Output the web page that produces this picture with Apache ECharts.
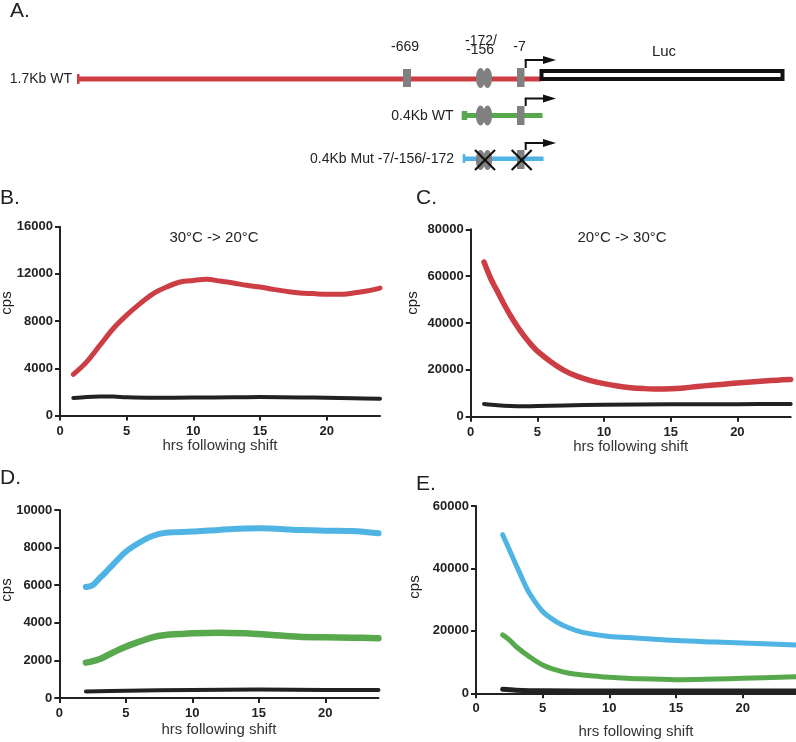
<!DOCTYPE html>
<html>
<head>
<meta charset="utf-8">
<script src="https://cdn.jsdelivr.net/npm/echarts@6.0.0/dist/echarts.min.js"></script>
<style>
html,body{margin:0;padding:0;background:#fff;}
#chart{width:796px;height:742px;}
</style>
</head>
<body>
<div id="chart"></div>
<script>
// ---------- data ----------
var xTicks = [0, 5, 10, 15, 20];

// Panel B: 30C -> 20C (1.7Kb WT)
var bRedHours = [1,2,3,4,5,6,7,8,9,10,11,12,13,14,15,16,17,18,19,20,21,22,23,24];
var bRed = [3480,4550,5960,7370,8500,9480,10330,10890,11310,11450,11540,11390,11230,11030,10890,10690,10520,10380,10330,10270,10270,10380,10550,10800];
var bBlackHours = [1,2,3,4,5,7,10,13,15,18,20,22,24];
var bBlack = [1480,1570,1610,1600,1540,1500,1520,1540,1560,1530,1500,1460,1430];

// Panel C: 20C -> 30C (1.7Kb WT)
var cRedHours = [1,1.5,2,2.5,3,3.5,4,4.5,5,6,7,8,9,10,11,12,13,14,15,16,17,18,19,20,21,22,23,24];
var cRed = [66000,59000,53500,48000,43000,38500,34500,31000,28000,23500,19800,17200,15400,14100,13100,12400,12000,11800,11900,12300,12900,13400,13900,14400,14800,15200,15600,15900];
var cBlackHours = [1,2,3,4,5,7,10,15,20,24];
var cBlack = [5400,4900,4600,4500,4550,4800,5100,5300,5350,5400];

// Panel D: 0.4Kb WT (green), 0.4Kb Mut (blue)
var dBlueHours = [2,2.5,3,3.5,4,5,6,7,8,10,12,15,18,20,22,24];
var dBlue = [5900,6000,6350,6700,7070,7780,8260,8620,8790,8850,8940,9030,8940,8900,8880,8760];
var dGreenHours = [2,3,4,5,6,7,8,9,10,12,14,15,16,18,20,22,24];
var dGreen = [1880,2060,2410,2730,2990,3230,3350,3400,3440,3470,3440,3400,3350,3260,3230,3210,3180];
var dBlackHours = [2,5,10,15,20,24];
var dBlack = [350,380,430,450,430,420];

// Panel E
var eBlueHours = [2,2.5,3,3.5,4,5,6,7,8,10,12,15,18,20,24];
var eBlue = [50800,46000,41200,36400,32100,26200,23000,20900,19500,18200,17700,16900,16400,16100,15500];
var eGreenHours = [2,2.5,3,4,5,6,7,8,10,12,15,18,20,24];
var eGreen = [18700,17100,15000,11750,9080,7480,6400,5870,5130,4700,4380,4600,4800,5330];
var eBlackHours = [2,3,5,10,15,20,24];
var eBlack = [1300,1000,800,750,750,750,750];

var yTicksB = [0,4000,8000,12000,16000];
var yTicksC = [0,20000,40000,60000,80000];
var yTicksD = [0,2000,4000,6000,8000,10000];
var yTicksE = [0,20000,40000,60000];

// ---------- styles ----------
var RED = '#cc3d44', GREEN = '#58a94e', BLUE = '#4fb3e3', BLACK = '#222222', GREY = '#808080';

function pairs(xs, ys){ return xs.map(function(x,i){ return [x, ys[i]]; }); }

var grids = [
  {left:60,    top:226.7, width:320, height:188.8},
  {left:470.7, top:229.3, width:320, height:187.4},
  {left:59.3,  top:510,   width:319.2, height:188},
  {left:476,   top:506,   width:320, height:187.3}
];
var nameGaps = [22, 23, 24, 31];
var yTickSets = [yTicksB, yTicksC, yTicksD, yTicksE];

var xAxes = grids.map(function(g,i){
  return {
    type:'value', gridIndex:i, min:xTicks[0], max:24, interval:xTicks[1]-xTicks[0],
    name:'hrs following shift', nameLocation:'middle', nameGap:nameGaps[i],
    nameTextStyle:{fontFamily:'Liberation Sans', fontSize:15, color:'#333'},
    axisLine:{onZero:false, lineStyle:{color:'#222', width:2}},
    axisTick:{length:5, lineStyle:{color:'#222', width:2}, customValues: xTicks},
    axisLabel:{fontFamily:'Liberation Sans', fontWeight:'bold', fontSize:13, color:'#222', margin:9,
      customValues: xTicks, formatter:function(v){ return String(v); }},
    splitLine:{show:false}
  };
});
var yAxes = grids.map(function(g,i){
  var t = yTickSets[i];
  return {
    type:'value', gridIndex:i, min:t[0], max:t[t.length-1], interval:t[1]-t[0],
    axisLine:{show:true, lineStyle:{color:'#222', width:2}},
    axisTick:{show:true, length:5, lineStyle:{color:'#222', width:2}},
    axisLabel:{fontFamily:'Liberation Sans', fontWeight:'bold', fontSize:13, color:'#222', margin:7,
      formatter:function(v){ return String(v); }},
    splitLine:{show:false}
  };
});

function line(i, xs, ys, color, w, z){
  return {type:'line', xAxisIndex:i, yAxisIndex:i, data:pairs(xs,ys), showSymbol:false, symbol:'none',
    smooth:0.35, lineStyle:{color:color, width:w, cap:'round', join:'round'}, z:z, silent:true, animation:false};
}

var series = [
  line(0, bBlackHours, bBlack, BLACK, 4, 2),
  line(0, bRedHours, bRed, RED, 5, 3),
  line(1, cBlackHours, cBlack, BLACK, 4, 2),
  line(1, cRedHours, cRed, RED, 5.5, 3),
  line(2, dBlackHours, dBlack, BLACK, 4, 2),
  line(2, dGreenHours, dGreen, GREEN, 6.5, 3),
  line(2, dBlueHours, dBlue, BLUE, 6, 3),
  line(3, eBlackHours, eBlack, BLACK, 5, 2),
  line(3, eGreenHours, eGreen, GREEN, 5, 3),
  line(3, eBlueHours, eBlue, BLUE, 5, 3)
];

// ---------- diagram & labels (graphic) ----------
var FONT = 'Liberation Sans';
function txt(s, x, y, size, align, opts){
  var o = {type:'text', x:x, y:y, silent:true, z:10,
    style:{text:s, font: (size||14)+'px "'+FONT+'"', fill:'#222', textAlign:align||'center', textVerticalAlign:'middle'}};
  if (opts) for (var k in opts) o[k]=opts[k];
  return o;
}
function rect(x,y,w,h,fill){ return {type:'rect', shape:{x:x,y:y,width:w,height:h}, style:{fill:fill}, silent:true, z:5}; }
function ell(cx,cy,rx,ry,fill){ return {type:'ellipse', shape:{cx:cx,cy:cy,rx:rx,ry:ry}, style:{fill:fill}, silent:true, z:6}; }
function seg(x1,y1,x2,y2,w,c){ return {type:'line', shape:{x1:x1,y1:y1,x2:x2,y2:y2}, style:{stroke:c||'#111', lineWidth:w||2}, silent:true, z:8}; }
function tri(pts){ return {type:'polygon', shape:{points:pts}, style:{fill:'#111'}, silent:true, z:8}; }
function arrow(x, yBase, yTop){
  return [seg(x, yBase, x, yTop, 2), seg(x-1, yTop, 545, yTop, 2), tri([[543,yTop-4],[556,yTop],[543,yTop+4]])];
}

var g = [];
// panel letters
g.push(txt('A.', 10, 11, 21, 'left'));
g.push(txt('B.', 0, 198, 21, 'left'));
g.push(txt('C.', 416, 198, 21, 'left'));
g.push(txt('D.', 0, 478, 21, 'left'));
g.push(txt('E.', 416, 484, 21, 'left'));
// panel titles
g.push(txt('30°C -> 20°C', 214, 238, 15, 'center'));
g.push(txt('20°C -> 30°C', 622, 238, 15, 'center'));
// cps labels
g.push(txt('cps', 7, 303, 15, 'center', {rotation:Math.PI/2}));
g.push(txt('cps', 413, 303, 15, 'center', {rotation:Math.PI/2}));
g.push(txt('cps', 7, 590, 15, 'center', {rotation:Math.PI/2}));
g.push(txt('cps', 415, 587, 15, 'center', {rotation:Math.PI/2}));

// 1.7Kb WT construct
g.push(txt('1.7Kb WT', 72, 79, 14, 'right'));
g.push(rect(78, 76.5, 463, 5, RED));
g.push(rect(77, 74, 2.5, 10, RED));
g.push(rect(403, 69, 8, 18, GREY));
g.push(ell(480.5, 78, 4.6, 10, GREY));
g.push(ell(487.5, 78, 4.6, 10, GREY));
g.push(rect(517, 68, 7.5, 19, GREY));
g.push({type:'rect', shape:{x:541.5, y:71, width:241, height:8}, style:{fill:'#fff', stroke:'#111', lineWidth:4}, silent:true, z:7});
g = g.concat(arrow(525.7, 68, 60));
g.push(txt('-669', 405, 47, 14, 'center'));
g.push(txt('-172/', 481, 41, 14, 'center'));
g.push(txt('-156', 480, 50, 14, 'center'));
g.push(txt('-7', 519.5, 47, 14, 'center'));
g.push(txt('Luc', 664, 52, 15, 'center'));

// 0.4Kb WT construct
g.push(txt('0.4Kb WT', 453.5, 116, 14, 'right'));
g.push(rect(462, 113, 80.5, 5, GREEN));
g.push(rect(461.7, 111, 5.5, 9, GREEN));
g.push(ell(480.5, 115.5, 4.6, 10, GREY));
g.push(ell(487.5, 115.5, 4.6, 10, GREY));
g.push(rect(517, 106, 7.5, 19, GREY));
g = g.concat(arrow(525.7, 106, 98.5));

// 0.4Kb Mut construct
g.push(txt('0.4Kb Mut -7/-156/-172', 454, 159, 14, 'right'));
g.push(rect(463, 156.5, 80.5, 4.5, BLUE));
g.push(rect(462.7, 154, 2.5, 9, BLUE));
g.push(ell(480.5, 160, 4.6, 10, GREY));
g.push(ell(487.5, 160, 4.6, 10, GREY));
g.push(rect(517, 150, 7.5, 19, GREY));
g.push(seg(475, 150, 495, 170, 2.2));
g.push(seg(495, 150, 475, 170, 2.2));
g.push(seg(511.7, 150, 531.7, 170, 2.2));
g.push(seg(531.7, 150, 511.7, 170, 2.2));
g = g.concat(arrow(525.7, 150, 143));

var chart = echarts.init(document.getElementById('chart'), null, {renderer:'canvas'});
chart.setOption({
  animation:false,
  backgroundColor:'#fff',
  grid: grids,
  xAxis: xAxes,
  yAxis: yAxes,
  series: series,
  graphic: g
});
</script>
</body>
</html>
